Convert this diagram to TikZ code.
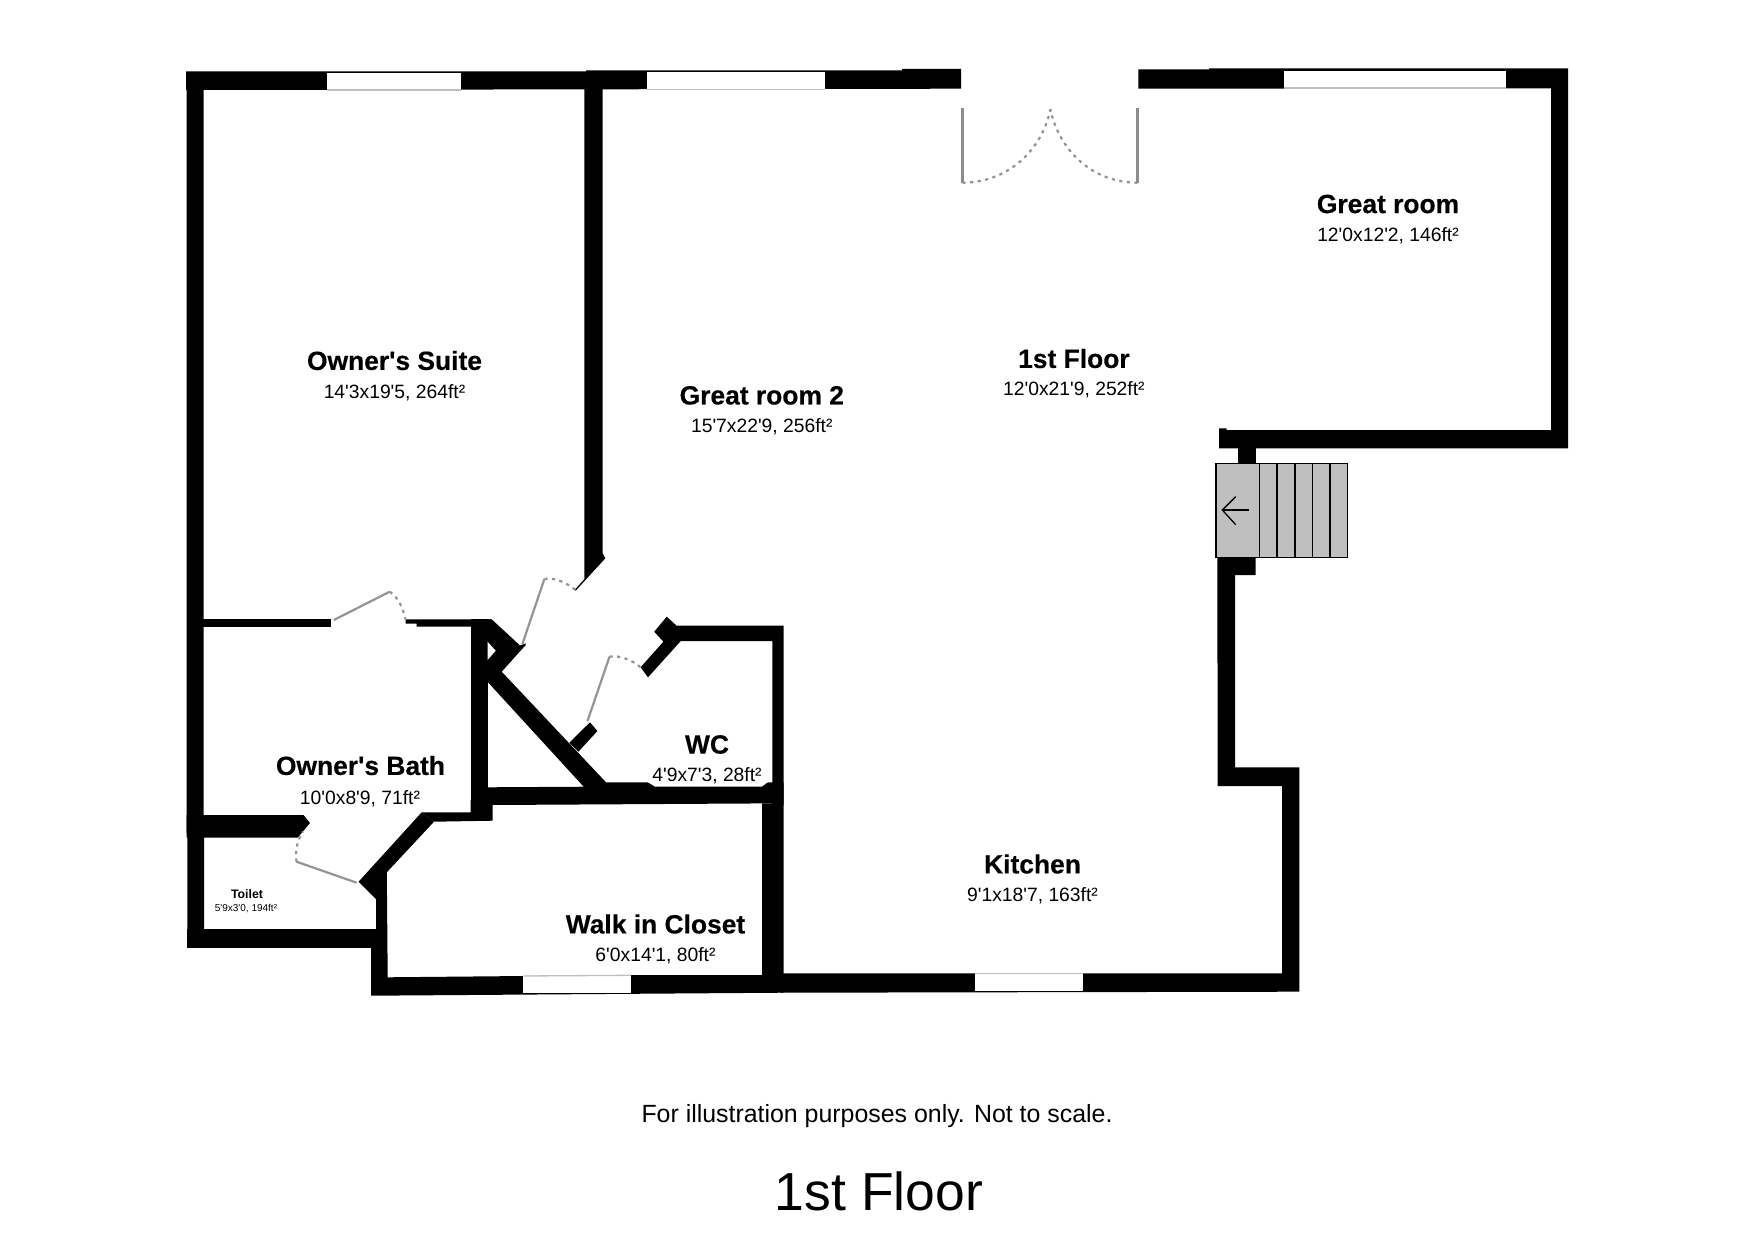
\documentclass[tikz,border=0pt]{standalone}
\usepackage{fontspec}
\newfontfamily\lib{Liberation Sans}
\newfontfamily\libheavy[BoldFeatures={FakeBold=0.35}]{Liberation Sans}
\newcommand{\fsz}[1]{\fontsize{#1}{#1}\selectfont}
\tikzset{
  wall/.style={fill=black,draw=none},
  win/.style={fill=white,draw=none},
  winline/.style={draw=black!25,line width=1.3pt},
  leaf/.style={draw=black!42,line width=2.2pt},
  swing/.style={draw=black!42,line width=2.2pt,dash pattern=on 3.2pt off 4.4pt},
  roomname/.style={inner sep=0pt,font=\libheavy\bfseries\fsz{26.4},text=black},
  roomsize/.style={inner sep=0pt,font=\lib\fsz{19.3},text=black},
  tread/.style={fill=black!25,draw=black,line width=1.6pt}
}
\begin{document}
\begin{tikzpicture}[x=1pt,y=-1pt]
\useasboundingbox (0,0) rectangle (1754,1241);
% --- outer top walls
\fill[wall] (186,71.3) -- (586,71.3) -- (586,70.3) -- (902,70.3) -- (902,69) -- (961,69) -- (961,88.7) -- (204,90) -- (186,90) -- cycle;
\fill[wall] (1138.4,69.3) -- (1209,69.3) -- (1209,68.3) -- (1568,68.3) -- (1568,448.3) -- (1219,448.3) -- (1219,428.3) -- (1226.5,428.3) -- (1226.5,430) -- (1551,430) -- (1551,88.3) -- (1138.4,88.7) -- cycle;
\fill[wall] (1238.3,440) rectangle (1255.7,465);
% --- left wall
\fill[wall] (186.6,80) -- (203.6,80) -- (203.6,815) -- (204,815) -- (204,947) -- (187.4,947.7) -- (187.4,833) -- (186.6,833) -- cycle;
% --- Great room 2 / Owner's Suite wall
\fill[wall] (584.3,80) -- (602.7,80) -- (602.7,553.3) -- (605.3,558.3) -- (575.7,590.7) -- (574.9,589.6) -- (584.3,579.3) -- cycle;
% --- Owner's Suite bottom wall
\fill[wall] (200,619.3) rectangle (331,626.7);
\fill[wall] (405.5,619.3) -- (491.3,619.3) -- (491.3,626.7) -- (416.7,626.7) -- (416.7,623.5) -- (405.5,623.5) -- cycle;
% --- bath right wall
\fill[wall] (470.6,619.3) rectangle (488,812.3);
% --- diagonal walls
\fill[wall] (486,619.3) -- (491.7,619.3) -- (520,645.5) -- (525.7,643.3) -- (525.7,645) -- (501.7,671.7) -- (606,782.3) -- (606,790) -- (586.7,790) -- (488,682.3) -- (486,682.3) -- cycle;
\fill[white] (487.5,641.7) -- (495.7,650.7) -- (487.5,660) -- cycle;
\fill[wall] (590,722.3) -- (597.4,731) -- (578.4,751.7) -- (569.3,742.7) -- cycle;
% --- WC walls
\fill[wall] (666.7,616.7) -- (676.6,625.7) -- (783.6,625.7) -- (783.6,805) -- (772.4,805) -- (772.4,641) -- (680.8,641) -- (648,677.3) -- (640.6,667.3) -- (663.4,641.7) -- (654.2,631.7) -- cycle;
% --- cross wall WC / closet
\fill[wall] (488,787.3) -- (586.7,786.7) -- (606,782.3) -- (783.6,782.3) -- (783.6,803.3) -- (492.6,805) -- (492.6,820.7) -- (434,821.7) -- (421.7,812.3) -- (470.6,812.3) -- (470.6,800) -- (488,800) -- cycle;
% --- closet shell with the diagonal
\fill[wall] (421.7,812.3) -- (434,821.7) -- (386.8,872.3) -- (387.7,977.3) -- (631,975) -- (762,975) -- (762,803.3) -- (783.6,803.3) -- (783.6,992.7) -- (371,995.7) -- (371,947) -- (376,947) -- (376,899) -- (358.6,881.7) -- cycle;
% --- toilet walls
\fill[wall] (187.4,929.3) rectangle (376,947.7);
\fill[wall] (186.6,815) -- (303.5,815) -- (310,823) -- (297.7,837.7) -- (186.6,837.7) -- cycle;
% --- kitchen walls
\fill[wall] (1217.3,555) -- (1255.7,555) -- (1255.7,575) -- (1235,575) -- (1235,767.3) -- (1299.3,767.3) -- (1299.3,991.7) -- (780,992.7) -- (780,973.3) -- (1282,973.3) -- (1282,786) -- (1217.7,786) -- cycle;
% --- windows
\fill[win] (327,73) rectangle (461,90);
\draw[winline] (327,90) -- (461,90);
\fill[win] (647,72) rectangle (824.6,89.6);
\draw[winline] (647,89.3) -- (824.6,89.3);
\fill[win] (1284,70.7) rectangle (1505.8,88.3);
\draw[winline] (1284,88) -- (1505.8,88);
\fill[win] (523.2,976) rectangle (631,993);
\draw[winline] (523.2,976) -- (631,975.3);
\fill[win] (975.3,973.3) rectangle (1083,990.7);
\draw[winline] (975.3,973.6) -- (1083,973.6);
% --- entrance double door
\draw[leaf,black!45] (962.5,108) -- (962.5,182.7);
\draw[leaf,black!45] (1137.5,108) -- (1137.5,182.7);
\draw[swing] (962.5,182.7) .. controls (1008,182.7) and (1042,150) .. (1050.4,109.3);
\draw[swing] (1137.5,182.7) .. controls (1092,182.7) and (1059,150) .. (1050.4,109.3);
% --- interior doors
\draw[leaf] (333.8,620) -- (389.7,591.7);
\draw[swing] (389.7,591.7) .. controls (398,597) and (403,608) .. (405.5,619.3);
\draw[leaf] (522.4,644) -- (544.4,579);
\draw[swing] (544.4,579) .. controls (555,577) and (567,583) .. (575.5,590);
\draw[leaf] (587.5,721) -- (609.5,656.7);
\draw[swing] (609.5,656.7) .. controls (620,655) and (632,660) .. (640.6,667.3);
\draw[leaf] (296.5,861.7) -- (356.6,882.7);
\draw[swing] (296.5,861.7) .. controls (295,850) and (297,842) .. (302.7,831.7);
% --- stairs
\fill[tread] (1215.7,463.3) rectangle (1347.3,557.3);
\draw[tread] (1215.7,463.3) rectangle (1259.3,557.3);
\draw[tread] (1259.3,463.3) rectangle (1277,557.3);
\draw[tread] (1277,463.3) rectangle (1294.7,557.3);
\draw[tread] (1294.7,463.3) rectangle (1312.3,557.3);
\draw[tread] (1312.3,463.3) rectangle (1329.7,557.3);
\draw[tread] (1329.7,463.3) rectangle (1347.3,557.3);
\draw[black,line width=1.3pt] (1249,510) -- (1222.3,510);
\draw[black,line width=1.3pt] (1235.7,496.7) -- (1222.3,510) -- (1235.7,524.7);
% --- labels
\fill[white] (647.3,781.8) -- (655,786.7) -- (761.7,786.7) -- (768.3,781.8) -- cycle;
\node[roomname] (suite) at (394.5,360.5) {Owner's Suite};
\node[roomsize] (suitesize) at (394.5,392.5) {14'3x19'5, 264ft²};
\node[roomname] (gr2) at (761.8,395.4) {Great room 2};
\node[roomsize] (gr2size) at (761.8,427) {15'7x22'9, 256ft²};
\node[roomname] (floor) at (1073.9,358.5) {1st Floor};
\node[roomsize] (floorsize) at (1073.9,390) {12'0x21'9, 252ft²};
\node[roomname] (gr) at (1388,204) {Great room};
\node[roomsize] (grsize) at (1388,236) {12'0x12'2, 146ft²};
\node[roomname] (bath) at (360.5,765.5) {Owner's Bath};
\node[roomsize] (bathsize) at (360,798.5) {10'0x8'9, 71ft²};
\node[roomname] (wc) at (707,744.5) {WC};
\node[roomsize] (wcsize) at (707,776) {4'9x7'3, 28ft²};
\node[roomname] (closet) at (655.5,924) {Walk in Closet};
\node[roomsize] (closetsize) at (655.5,955.5) {6'0x14'1, 80ft²};
\node[roomname] (kitchen) at (1032.5,864) {Kitchen};
\node[roomsize] (kitchensize) at (1032.5,896) {9'1x18'7, 163ft²};
\node[inner sep=0pt,font=\lib\bfseries\fsz{12.3}] (toilet) at (247,893.8) {Toilet};
\node[inner sep=0pt,font=\lib\fsz{10}] (toiletsize) at (246,908.5) {5'9x3'0, 194ft²};
\node[inner sep=0pt,font=\lib\fsz{24.9}] (note) at (877,1116) {For illustration purposes only. Not to scale.};
\node[inner sep=0pt,font=\lib\fsz{53.5}] (title) at (879,1191.5) {1st Floor};
\end{tikzpicture}
\end{document}
